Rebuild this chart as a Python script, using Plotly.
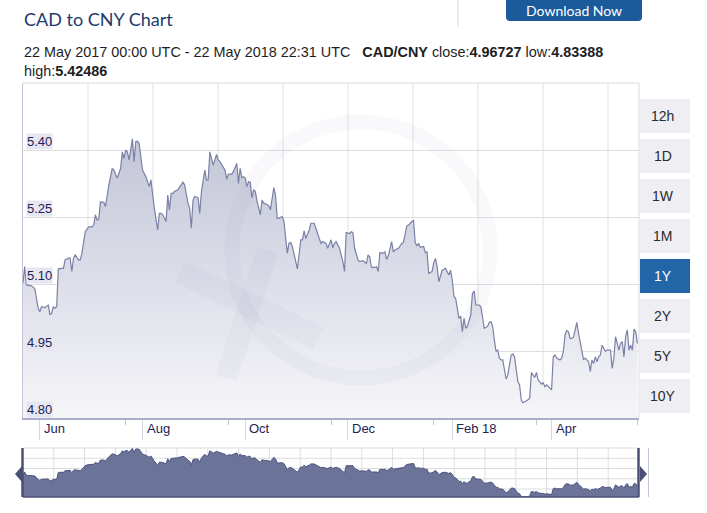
import plotly.graph_objects as go
import pandas as pd

# ---------------- data ----------------
start_date = "2017-05-22"
end_date = "2018-05-22 22:31"

day_offsets = [
    0, 1, 2, 5, 7, 9, 10, 11, 13, 15, 16, 17, 18, 19, 20, 21, 23, 24, 25, 27,
    28, 29, 30, 31, 33, 34, 35, 37, 39, 41, 42, 43, 44, 45, 46, 48, 49, 51, 53, 54,
    56, 58, 59, 60, 61, 62, 63, 65, 66, 67, 68, 69, 70, 71, 73, 75, 76, 77, 78, 80,
    81, 82, 83, 85, 86, 87, 88, 89, 90, 92, 94, 95, 96, 97, 98, 99, 100, 101, 102, 104,
    105, 106, 108, 109, 110, 111, 113, 115, 116, 117, 119, 120, 121, 122, 124, 125, 127, 128, 129, 130,
    131, 132, 133, 134, 135, 136, 137, 138, 139, 141, 142, 143, 145, 146, 147, 149, 150, 151, 152, 154,
    155, 156, 157, 158, 159, 160, 162, 163, 164, 165, 166, 167, 168, 169, 170, 171, 173, 175, 177, 178,
    180, 181, 183, 184, 185, 186, 188, 190, 191, 192, 194, 195, 196, 197, 199, 200, 202, 204, 205, 206,
    207, 209, 210, 211, 212, 214, 215, 216, 217, 219, 220, 221, 223, 225, 226, 228, 229, 231, 232, 233,
    234, 235, 236, 238, 239, 240, 241, 243, 244, 245, 246, 247, 249, 250, 251, 253, 254, 255, 256, 257,
    258, 259, 260, 261, 262, 263, 264, 265, 266, 267, 268, 269, 271, 272, 273, 274, 276, 277, 278, 279,
    280, 281, 282, 283, 284, 285, 286, 287, 288, 289, 290, 291, 292, 293, 294, 295, 296, 297, 299, 301,
    302, 303, 304, 305, 306, 307, 308, 309, 310, 311, 312, 313, 314, 315, 316, 317, 319, 320, 321, 322,
    323, 324, 325, 326, 327, 328, 329, 330, 331, 332, 333, 334, 335, 336, 337, 338, 339, 340, 341, 342,
    343, 344, 345, 346, 347, 348, 349, 350, 351, 352, 353, 354, 355, 356, 357, 358, 359, 360, 361, 362,
    363, 364, 365,
]

rates = [
    5.102, 5.139, 5.098, 5.096, 5.090, 5.046, 5.038, 5.049, 5.047, 5.053, 5.032, 5.034, 5.049, 5.046, 5.049, 5.134, 5.135, 5.135, 5.154, 5.158,
    5.158, 5.128, 5.158, 5.165, 5.154, 5.154, 5.169, 5.217, 5.228, 5.228, 5.232, 5.255, 5.243, 5.245, 5.284, 5.283, 5.273, 5.322, 5.359, 5.355,
    5.337, 5.359, 5.396, 5.381, 5.400, 5.396, 5.378, 5.425, 5.374, 5.419, 5.420, 5.415, 5.385, 5.355, 5.340, 5.318, 5.333, 5.299, 5.270, 5.221,
    5.258, 5.258, 5.255, 5.240, 5.299, 5.266, 5.303, 5.303, 5.307, 5.311, 5.323, 5.328, 5.322, 5.299, 5.281, 5.270, 5.225, 5.288, 5.296, 5.293,
    5.258, 5.307, 5.355, 5.333, 5.333, 5.396, 5.366, 5.390, 5.378, 5.374, 5.359, 5.355, 5.335, 5.346, 5.346, 5.352, 5.370, 5.325, 5.359, 5.338,
    5.340, 5.337, 5.318, 5.329, 5.328, 5.293, 5.311, 5.307, 5.286, 5.255, 5.288, 5.281, 5.278, 5.275, 5.266, 5.316, 5.299, 5.247, 5.247, 5.251,
    5.240, 5.202, 5.169, 5.191, 5.193, 5.184, 5.154, 5.134, 5.165, 5.199, 5.199, 5.219, 5.202, 5.210, 5.221, 5.236, 5.236, 5.213, 5.191, 5.195,
    5.191, 5.180, 5.199, 5.181, 5.191, 5.195, 5.180, 5.150, 5.128, 5.215, 5.213, 5.217, 5.215, 5.180, 5.154, 5.150, 5.152, 5.146, 5.165, 5.161,
    5.137, 5.137, 5.139, 5.128, 5.170, 5.169, 5.172, 5.155, 5.163, 5.195, 5.172, 5.176, 5.180, 5.191, 5.193, 5.230, 5.232, 5.240, 5.242, 5.193,
    5.185, 5.191, 5.182, 5.184, 5.170, 5.172, 5.124, 5.128, 5.148, 5.157, 5.139, 5.105, 5.131, 5.133, 5.135, 5.120, 5.131, 5.109, 5.072, 5.068,
    5.046, 5.023, 5.028, 4.993, 5.023, 5.001, 5.005, 5.020, 5.031, 5.079, 5.084, 5.053, 5.053, 5.049, 5.027, 5.001, 5.005, 5.014, 5.016, 5.005,
    4.975, 4.949, 4.952, 4.934, 4.930, 4.930, 4.908, 4.887, 4.896, 4.919, 4.941, 4.943, 4.937, 4.908, 4.881, 4.874, 4.840, 4.834, 4.838, 4.844,
    4.902, 4.896, 4.891, 4.902, 4.885, 4.881, 4.876, 4.879, 4.870, 4.874, 4.870, 4.867, 4.863, 4.937, 4.941, 4.934, 4.930, 4.934, 4.949, 4.986,
    4.996, 4.993, 4.978, 4.978, 4.981, 4.997, 5.014, 4.990, 4.971, 4.952, 4.930, 4.934, 4.930, 4.926, 4.904, 4.930, 4.922, 4.937, 4.926, 4.937,
    4.941, 4.963, 4.956, 4.949, 4.952, 4.952, 4.952, 4.911, 4.934, 4.982, 4.967, 4.952, 4.967, 4.971, 4.937, 4.982, 4.997, 4.952, 4.963, 4.952,
    4.999, 4.993, 4.967,
]

y_ticks = [4.80, 4.95, 5.10, 5.25, 5.40]
x_tick_dates = ["2017-06-01", "2017-08-01", "2017-10-01", "2017-12-01", "2018-02-01", "2018-04-01"]
x_tick_labels = ["Jun", "Aug", "Oct", "Dec", "Feb 18", "Apr"]
x_minor_dates = ["2017-07-22", "2017-09-21", "2017-11-21", "2018-01-21", "2018-03-23", "2018-05-22"]
range_buttons = ["12h", "1D", "1W", "1M", "1Y", "2Y", "5Y", "10Y"]
selected_button = "1Y"

title_text = "CAD to CNY Chart"
pair = "CAD/CNY"
close_val, low_val, high_val = "4.96727", "4.83388", "5.42486"
period_text = "22 May 2017 00:00 UTC - 22 May 2018 22:31 UTC"

dates = [pd.Timestamp(start_date) + pd.Timedelta(days=d) for d in day_offsets]

# ---------------- layout helpers (pixel -> paper) ----------------
W, H = 707, 513
L, R, T, B = 23, 639, 83, 497
PW, PH = R - L, B - T


def px(x):
    return (x - L) / PW


def py(y):
    return (B - y) / PH


main_bottom = py(418)
nav_top = py(448)
TXT = "#1d2258"
SANS = "Liberation Sans, Arial"

fig = go.Figure()

fig.add_trace(go.Scatter(
    x=dates, y=rates, mode="lines",
    line=dict(color="#7a81a6", width=1.2),
    fill="tozeroy",
    fillgradient=dict(type="vertical",
                      colorscale=[[0, "#f6f6f9"], [1, "#c2c5d7"]],
                      start=4.80, stop=5.43),
    hoverinfo="skip", showlegend=False,
    xaxis="x", yaxis="y",
))

fig.add_trace(go.Scatter(
    x=dates, y=rates, mode="lines",
    line=dict(color="#4c5380", width=1),
    fill="tozeroy", fillcolor="#6b7399",
    hoverinfo="skip", showlegend=False,
    xaxis="x2", yaxis="y2",
))

shapes = []
# main vertical grid (every 65 px)
for k in range(1, 10):
    xx = px(L + 65 * k)
    shapes.append(dict(type="line", xref="paper", yref="paper", x0=xx, x1=xx,
                       y0=main_bottom, y1=1, line=dict(color="#e1e1e4", width=1), layer="below"))
# main border (top + right)
shapes.append(dict(type="line", xref="paper", yref="paper", x0=0, x1=1, y0=1, y1=1,
                   line=dict(color="#dcdce0", width=1)))
shapes.append(dict(type="line", xref="paper", yref="paper", x0=1, x1=1, y0=main_bottom, y1=1,
                   line=dict(color="#dcdce0", width=1)))

# watermark (xe logo, faint)
wm = "rgba(120,125,155,0.045)"
shapes.append(dict(type="circle", xref="paper", yref="paper",
                   x0=px(232), x1=px(490), y0=py(122), y1=py(378),
                   line=dict(color=wm, width=15), layer="above"))
shapes.append(dict(type="line", xref="paper", yref="paper",
                   x0=px(180), x1=px(318), y0=py(272), y1=py(338),
                   line=dict(color=wm, width=24), layer="above"))
shapes.append(dict(type="line", xref="paper", yref="paper",
                   x0=px(268), x1=px(226), y0=py(250), y1=py(378),
                   line=dict(color=wm, width=22), layer="above"))

# navigator grid
for k in range(1, 20):
    xx = px(L + PW * k / 20)
    shapes.append(dict(type="line", xref="paper", yref="paper", x0=xx, x1=xx,
                       y0=0, y1=nav_top, line=dict(color="#dcdcdc", width=1), layer="below"))
for k in range(0, 5):
    yy = py(448 + 10.25 * k)
    shapes.append(dict(type="line", xref="paper", yref="paper", x0=0, x1=1,
                       y0=yy, y1=yy, line=dict(color="#dcdcdc", width=1), layer="below"))
# navigator frame / handles
nav_dark = "#4b5077"
shapes.append(dict(type="line", xref="paper", yref="paper", x0=0, x1=1, y0=py(497), y1=py(497),
                   line=dict(color=nav_dark, width=1.5)))
for xe in (22.5, 638.5):
    shapes.append(dict(type="line", xref="paper", yref="paper", x0=px(xe), x1=px(xe),
                       y0=py(497), y1=py(448), line=dict(color=nav_dark, width=2.5)))
shapes.append(dict(type="path", xref="paper", yref="paper",
                   path=f"M {px(22)},{py(466)} L {px(15)},{py(474)} L {px(22)},{py(482)} Z",
                   fillcolor=nav_dark, line=dict(width=0)))
shapes.append(dict(type="path", xref="paper", yref="paper",
                   path=f"M {px(640)},{py(466)} L {px(647)},{py(474)} L {px(640)},{py(482)} Z",
                   fillcolor=nav_dark, line=dict(width=0)))
shapes.append(dict(type="line", xref="paper", yref="paper", x0=px(648.5), x1=px(648.5),
                   y0=py(497), y1=py(448), line=dict(color="#c3c6d8", width=1)))

# header decorations
shapes.append(dict(type="line", xref="paper", yref="paper", x0=px(458), x1=px(458),
                   y0=py(0), y1=py(27), line=dict(color="#d9d9d9", width=1)))
shapes.append(dict(type="path", xref="paper", yref="paper",
                   path=(f"M {px(506)},{py(-5)} L {px(642)},{py(-5)} L {px(642)},{py(17)} "
                         f"Q {px(642)},{py(21)} {px(638)},{py(21)} L {px(510)},{py(21)} "
                         f"Q {px(506)},{py(21)} {px(506)},{py(17)} Z"),
                   fillcolor="#1b5b9c", line=dict(width=0)))

annotations = []
# range buttons
for i, lab in enumerate(range_buttons):
    top = 99 + 40 * i
    sel = lab == selected_button
    shapes.append(dict(type="rect", xref="paper", yref="paper",
                       x0=px(640), x1=px(690), y0=py(top), y1=py(top + 34),
                       fillcolor="#2166a6" if sel else "#eeeef3", line=dict(width=0)))
    annotations.append(dict(xref="paper", yref="paper", x=px(663), y=py(top + 17),
                            text=lab, showarrow=False, xanchor="center", yanchor="middle",
                            font=dict(family=SANS, size=14,
                                      color="#ffffff" if sel else "#2b2b2b")))

# y tick labels (inside, above grid lines, with light boxes)
for v in y_ticks:
    annotations.append(dict(xref="x domain", yref="y", x=0, y=v, xshift=3, yshift=0,
                            text=f"{v:.2f}", showarrow=False, xanchor="left", yanchor="bottom",
                            bgcolor="#e6e6f0", borderpad=0,
                            font=dict(family=SANS, size=13, color=TXT)))
# x tick labels (right of the tick lines)
for d, lab in zip(x_tick_dates, x_tick_labels):
    annotations.append(dict(xref="x", yref="y domain", x=d, y=0, xshift=2, yshift=-1,
                            text=lab, showarrow=False, xanchor="left", yanchor="top",
                            font=dict(family=SANS, size=13, color=TXT)))

# header texts
annotations.append(dict(xref="paper", yref="paper", x=px(22), y=py(19), text=title_text,
                        showarrow=False, xanchor="left", yanchor="middle",
                        font=dict(family="Lato, Open Sans", size=18, color="#243a6a")))
annotations.append(dict(xref="paper", yref="paper", x=px(574), y=py(10), text="Download Now",
                        showarrow=False, xanchor="center", yanchor="middle",
                        font=dict(family="Lato, Open Sans", size=14, color="#ffffff")))
annotations.append(dict(xref="paper", yref="paper", x=px(22), y=py(52),
                        text=(f"{period_text}\u00a0\u00a0\u00a0<b>{pair}</b> close:<b>{close_val}</b> "
                              f"low:<b>{low_val}</b>"),
                        showarrow=False, xanchor="left", yanchor="middle",
                        font=dict(family=SANS, size=14.4, color="#1e1e1e")))
annotations.append(dict(xref="paper", yref="paper", x=px(22), y=py(71),
                        text=f"high:<b>{high_val}</b>",
                        showarrow=False, xanchor="left", yanchor="middle",
                        font=dict(family=SANS, size=14.4, color="#1e1e1e")))

fig.update_layout(
    width=W, height=H, autosize=False,
    margin=dict(l=L, r=W - R, t=T, b=H - B, pad=0),
    paper_bgcolor="#ffffff", plot_bgcolor="rgba(0,0,0,0)",
    showlegend=False,
    shapes=shapes, annotations=annotations,
    xaxis=dict(domain=[0, 1], range=[start_date, end_date], anchor="y",
               showgrid=False, zeroline=False, showticklabels=False,
               tickmode="array", tickvals=x_tick_dates,
               ticks="outside", ticklen=20, tickcolor="#d4d6e2", tickwidth=1,
               minor=dict(tickmode="array", tickvals=x_minor_dates, ticks="outside",
                          ticklen=5, tickcolor="#c3c7da", tickwidth=1, showgrid=False),
               showline=True, linecolor="#a9aeca", linewidth=2),
    yaxis=dict(domain=[main_bottom, 1], range=[4.80, 5.55], anchor="x",
               tickmode="array", tickvals=y_ticks, showticklabels=False,
               showgrid=True, gridcolor="#dedee2", gridwidth=1, zeroline=False,
               showline=True, linecolor="#c4c6d8", linewidth=1, ticks=""),
    xaxis2=dict(domain=[0, 1], range=[start_date, end_date], anchor="y2",
                showgrid=False, zeroline=False, showticklabels=False, ticks="",
                showline=False),
    yaxis2=dict(domain=[0, nav_top], range=[4.834, 5.43], anchor="x2",
                showgrid=False, zeroline=False, showticklabels=False, ticks="",
                showline=False),
)

fig.write_html("out.html", config={"displayModeBar": False},
               post_script="document.body.style.margin='0px';document.body.style.overflow='hidden';")
